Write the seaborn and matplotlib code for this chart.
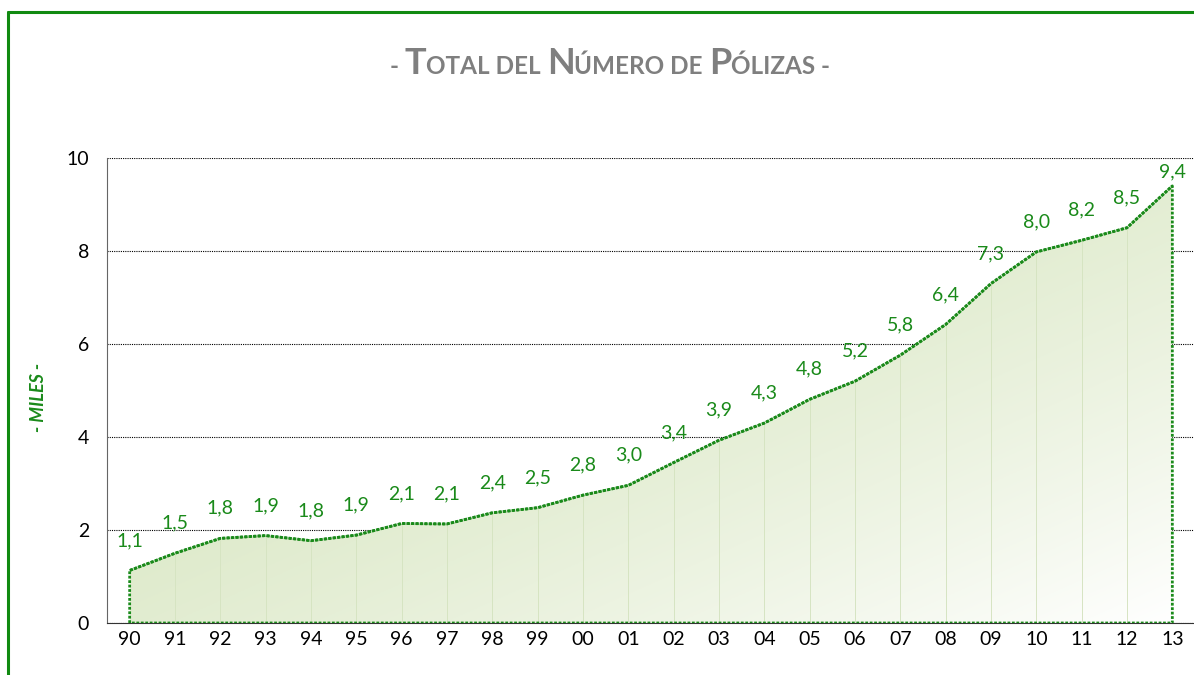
import numpy as np
import pandas as pd
import matplotlib
matplotlib.use('Agg')
import matplotlib.pyplot as plt
import seaborn as sns
from matplotlib.lines import Line2D

# data (thousands of policies)
years = ['90', '91', '92', '93', '94', '95', '96', '97', '98', '99', '00', '01',
         '02', '03', '04', '05', '06', '07', '08', '09', '10', '11', '12', '13']
polizas = [1.13, 1.50, 1.82, 1.88, 1.77, 1.89, 2.14, 2.13, 2.37, 2.48, 2.75, 2.96,
           3.45, 3.93, 4.30, 4.81, 5.20, 5.76, 6.42, 7.30, 7.98, 8.23, 8.50, 9.40]
labels = ['1,1', '1,5', '1,8', '1,9', '1,8', '1,9', '2,1', '2,1', '2,4', '2,5', '2,8', '3,0',
          '3,4', '3,9', '4,3', '4,8', '5,2', '5,8', '6,4', '7,3', '8,0', '8,2', '8,5', '9,4']

df = pd.DataFrame({'x': np.arange(len(years)), 'year': years, 'value': polizas})

sns.set_style('white')
plt.rcParams['font.family'] = ['Lato', 'DejaVu Sans']

GREEN = '#1a8a1a'
fig = plt.figure(figsize=(11.94, 6.75), dpi=100)
ax = fig.add_axes([107 / 1194, 52 / 675, 1088 / 1194, 465 / 675])

x = df['x'].values
y = df['value'].values

# gradient fill under the line
poly = ax.fill_between(x, 0, y, color='none', zorder=2)
gx, gy = np.meshgrid(np.linspace(0, 1, 300), np.linspace(0, 1, 300))
t = np.clip((gx + gy) / 2, 0, 1) ** 1.8  # 0 at top-left, 1 at bottom-right (origin upper)
top = np.array([214, 229, 190]) / 255
bot = np.array([255, 255, 255]) / 255
img = top[None, None, :] * (1 - t[..., None]) + bot[None, None, :] * t[..., None]
im = ax.imshow(img, extent=[x[0], x[-1], 0, 10], origin='upper', aspect='auto', zorder=2)
path = poly.get_paths()[0]
im.set_clip_path(path, transform=ax.transData)

# faint vertical lines inside the area
ax.vlines(x[1:-1], 0, y[1:-1], color='#d6e4c2', lw=0.7, zorder=3)

# outline of the area
ox = np.concatenate([[x[0]], x, [x[-1], x[0]]])
oy = np.concatenate([[0], y, [0, 0]])
ax.plot(ox, oy, color=GREEN, lw=2, ls=(0, (1, 0.6)), zorder=4)
sns.lineplot(data=df, x='x', y='value', ax=ax, color=GREEN, lw=2,
             ls=(0, (1, 0.6)), zorder=5)

for xi, yi, lab in zip(x, y, labels):
    off = 30 if yi < 9 else 14
    ax.annotate(lab, (xi, yi), xytext=(0, off), textcoords='offset pixels',
                ha='center', va='center', color=GREEN, fontsize=14, zorder=6)

ax.set_xlim(-0.5, len(years) - 0.5)
ax.set_ylim(0, 10)
ax.set_yticks([0, 2, 4, 6, 8, 10])
ax.set_xticks(x)
ax.set_xticklabels(years)
ax.set_xticks(np.arange(-0.5, len(years)), minor=True)
ax.tick_params(axis='x', which='major', length=0, pad=6, labelsize=14, labelcolor='black')
ax.tick_params(axis='x', which='minor', length=5, width=1, color='#333333', direction='out')
ax.tick_params(axis='y', length=6, width=0.8, color='#333333', pad=7, labelsize=14,
               labelcolor='black')
ax.set_xlabel('')
ax.set_ylabel('')
ax.grid(axis='y', color='black', lw=0.8, ls=(0, (1, 1)), zorder=1)
ax.set_axisbelow(True)
for s in ['top', 'right']:
    ax.spines[s].set_visible(False)
ax.spines['left'].set_color('#666666')
ax.spines['left'].set_linestyle((0, (1, 1)))
ax.spines['bottom'].set_color('#333333')
ax.spines['bottom'].set_linestyle((0, (1, 1)))
ax.set_facecolor('white')

# y axis title
fig.text(38 / 1194, 1 - 397 / 675, '- MILES -', rotation=90, ha='center', va='center',
         color=GREEN, fontsize=13, fontweight='bold', fontstyle='italic')

# title in small caps built from pieces
pieces = [('- ', 17.5), ('T', 26), ('OTAL DEL ', 17.5), ('N', 26), ('ÚMERO DE ', 17.5),
          ('P', 26), ('ÓLIZAS -', 17.5)]
renderer = fig.canvas.get_renderer()
texts = []
widths = []
for s, sz in pieces:
    tx = fig.text(0, 1 - 74 / 675, s, fontsize=sz, fontweight='bold', color='#7f7f7f',
                  ha='left', va='baseline')
    texts.append(tx)
    widths.append(tx.get_window_extent(renderer).width)
start = 610 - sum(widths) / 2
for tx, w in zip(texts, widths):
    tx.set_x(start / 1194)
    start += w

# green frame
fig.add_artist(Line2D([8 / 1194, 8 / 1194], [0, 1 - 12 / 675], color='#118a11', lw=2.2))
fig.add_artist(Line2D([8 / 1194, 1], [1 - 12 / 675, 1 - 12 / 675], color='#118a11', lw=2.2))

fig.savefig('out.png', dpi=100)
